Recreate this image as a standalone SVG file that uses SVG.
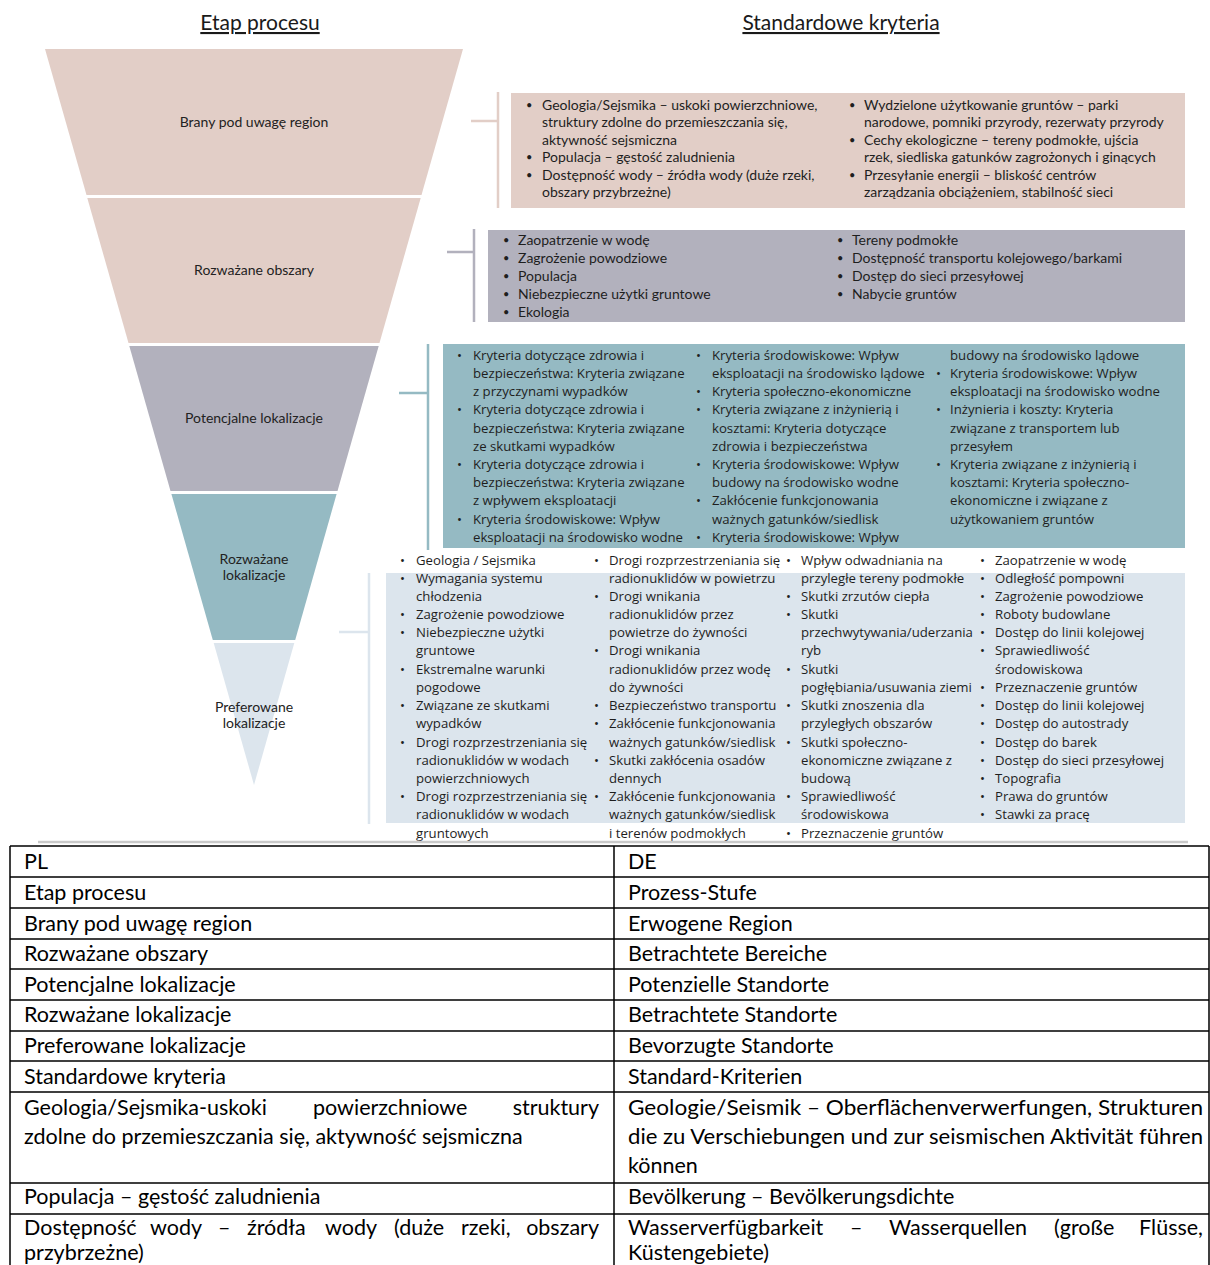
<svg xmlns="http://www.w3.org/2000/svg" width="1210" height="1265" viewBox="0 0 1210 1265">
  <style>
    .hdr { font-family: Lato, "Liberation Sans", sans-serif; font-size: 21px; fill: #1a1a1a; text-anchor: middle; text-decoration: underline; }
    .stage { font-family: Lato, "Liberation Sans", sans-serif; font-size: 14px; fill: #222; text-anchor: middle; }
    .c1 { font-family: Lato, "Liberation Sans", sans-serif; font-size: 14px; fill: #1e1e1e; }
    .c1 .b { font-size: 11px; }
    .c2 { font-family: "Open Sans", "Liberation Sans", sans-serif; font-size: 13.2px; fill: #1e1e1e; }
    .tb { font-family: Lato, "Liberation Sans", sans-serif; font-size: 21.5px; fill: #000; }
    .pink { fill: #e2cec7; }
    .grey { fill: #b2b1bd; }
    .teal { fill: #95bac3; }
    .pale { fill: #dce5ed; }
    .br { fill: none; stroke-width: 2.5; }
    .grid { stroke: #000; stroke-width: 1.5; fill: none; }
  </style>

  <!-- column headings -->
  <text class="hdr" x="260" y="30">Etap procesu</text>
  <text class="hdr" x="841" y="30">Standardowe kryteria</text>

  <!-- funnel stages -->
  <g id="stage-region">
    <polygon class="pink" points="45,49 463,49 421.5,195 86.5,195"/>
    <text class="stage" x="254" y="127">Brany pod uwagę region</text>
  </g>
  <g id="stage-areas">
    <polygon class="pink" points="87.3,198 420.7,198 379.5,343 128.5,343"/>
    <text class="stage" x="254" y="275">Rozważane obszary</text>
  </g>
  <g id="stage-potential">
    <polygon class="grey" points="129.3,346 378.7,346 337.5,491 170.5,491"/>
    <text class="stage" x="254" y="423">Potencjalne lokalizacje</text>
  </g>
  <g id="stage-considered">
    <polygon class="teal" points="171.4,494 336.6,494 295.2,640 212.8,640"/>
    <text class="stage" x="254" y="564">Rozważane</text>
    <text class="stage" x="254" y="580">lokalizacje</text>
  </g>
  <g id="stage-preferred">
    <polygon class="pale" points="213.7,643 294.3,643 254,785"/>
    <text class="stage" x="254" y="712">Preferowane</text>
    <text class="stage" x="254" y="728">lokalizacje</text>
  </g>

  <!-- bracket connectors from stages to criteria boxes -->
  <g id="connectors">
    <path class="br" stroke="#e2cec7" d="M471,121 H498 M498,92 V208"/>
    <path class="br" stroke="#b2b1bd" d="M447,252 H474 M474,229 V322"/>
    <path class="br" stroke="#95bac3" d="M399,393 H428 M428,344 V550"/>
    <path class="br" stroke="#dce5ed" d="M339,632 H369 M369,573 V824"/>
  </g>

  <!-- criteria: considered region -->
  <g id="criteria-region">
    <rect class="pink" x="511" y="93" width="674" height="115"/>
    <g class="c1">
      <text class="b" x="526" y="108.5">•</text>
      <text x="542" y="109.5">Geologia/Sejsmika – uskoki powierzchniowe,</text>
      <text x="542" y="127">struktury zdolne do przemieszczania się,</text>
      <text x="542" y="144.5">aktywność sejsmiczna</text>
      <text class="b" x="526" y="161">•</text>
      <text x="542" y="162">Populacja – gęstość zaludnienia</text>
      <text class="b" x="526" y="178.5">•</text>
      <text x="542" y="179.5">Dostępność wody – źródła wody (duże rzeki,</text>
      <text x="542" y="197">obszary przybrzeżne)</text>
      <text class="b" x="849" y="108.5">•</text>
      <text x="864" y="109.5">Wydzielone użytkowanie gruntów – parki</text>
      <text x="864" y="127">narodowe, pomniki przyrody, rezerwaty przyrody</text>
      <text class="b" x="849" y="143.5">•</text>
      <text x="864" y="144.5">Cechy ekologiczne – tereny podmokłe, ujścia</text>
      <text x="864" y="162">rzek, siedliska gatunków zagrożonych i ginących</text>
      <text class="b" x="849" y="178.5">•</text>
      <text x="864" y="179.5">Przesyłanie energii – bliskość centrów</text>
      <text x="864" y="197">zarządzania obciążeniem, stabilność sieci</text>
    </g>
  </g>

  <!-- criteria: considered areas -->
  <g id="criteria-areas">
    <rect class="grey" x="488" y="230" width="697" height="92"/>
    <g class="c1">
      <text class="b" x="503" y="243.5">•</text><text x="518" y="244.5">Zaopatrzenie w wodę</text>
      <text class="b" x="503" y="261.5">•</text><text x="518" y="262.5">Zagrożenie powodziowe</text>
      <text class="b" x="503" y="279.5">•</text><text x="518" y="280.5">Populacja</text>
      <text class="b" x="503" y="297.5">•</text><text x="518" y="298.5">Niebezpieczne użytki gruntowe</text>
      <text class="b" x="503" y="315.5">•</text><text x="518" y="316.5">Ekologia</text>
      <text class="b" x="837" y="243.5">•</text><text x="852" y="244.5">Tereny podmokłe</text>
      <text class="b" x="837" y="261.5">•</text><text x="852" y="262.5">Dostępność transportu kolejowego/barkami</text>
      <text class="b" x="837" y="279.5">•</text><text x="852" y="280.5">Dostęp do sieci przesyłowej</text>
      <text class="b" x="837" y="297.5">•</text><text x="852" y="298.5">Nabycie gruntów</text>
    </g>
  </g>

  <!-- criteria: potential sites -->
  <g id="criteria-potential">
    <rect class="teal" x="443" y="344" width="742" height="204"/>
    <g class="c2">
      <text x="457" y="359.5">•</text><text x="473" y="359.5">Kryteria dotyczące zdrowia i</text>
      <text x="473" y="377.5">bezpieczeństwa: Kryteria związane</text>
      <text x="473" y="396">z przyczynami wypadków</text>
      <text x="457" y="414">•</text><text x="473" y="414">Kryteria dotyczące zdrowia i</text>
      <text x="473" y="432.5">bezpieczeństwa: Kryteria związane</text>
      <text x="473" y="450.5">ze skutkami wypadków</text>
      <text x="457" y="469">•</text><text x="473" y="469">Kryteria dotyczące zdrowia i</text>
      <text x="473" y="487">bezpieczeństwa: Kryteria związane</text>
      <text x="473" y="505">z wpływem eksploatacji</text>
      <text x="457" y="523.5">•</text><text x="473" y="523.5">Kryteria środowiskowe: Wpływ</text>
      <text x="473" y="541.5">eksploatacji na środowisko wodne</text>

      <text x="696" y="359.5">•</text><text x="712" y="359.5">Kryteria środowiskowe: Wpływ</text>
      <text x="712" y="377.5">eksploatacji na środowisko lądowe</text>
      <text x="696" y="396">•</text><text x="712" y="396">Kryteria społeczno-ekonomiczne</text>
      <text x="696" y="414">•</text><text x="712" y="414">Kryteria związane z inżynierią i</text>
      <text x="712" y="432.5">kosztami: Kryteria dotyczące</text>
      <text x="712" y="450.5">zdrowia i bezpieczeństwa</text>
      <text x="696" y="469">•</text><text x="712" y="469">Kryteria środowiskowe: Wpływ</text>
      <text x="712" y="487">budowy na środowisko wodne</text>
      <text x="696" y="505">•</text><text x="712" y="505">Zakłócenie funkcjonowania</text>
      <text x="712" y="523.5">ważnych gatunków/siedlisk</text>
      <text x="696" y="541.5">•</text><text x="712" y="541.5">Kryteria środowiskowe: Wpływ</text>

      <text x="950" y="359.5">budowy na środowisko lądowe</text>
      <text x="936" y="377.5">•</text><text x="950" y="377.5">Kryteria środowiskowe: Wpływ</text>
      <text x="950" y="396">eksploatacji na środowisko wodne</text>
      <text x="936" y="414">•</text><text x="950" y="414">Inżynieria i koszty: Kryteria</text>
      <text x="950" y="432.5">związane z transportem lub</text>
      <text x="950" y="450.5">przesyłem</text>
      <text x="936" y="469">•</text><text x="950" y="469">Kryteria związane z inżynierią i</text>
      <text x="950" y="487">kosztami: Kryteria społeczno-</text>
      <text x="950" y="505">ekonomiczne i związane z</text>
      <text x="950" y="523.5">użytkowaniem gruntów</text>
    </g>
  </g>

  <!-- criteria: considered sites -->
  <g id="criteria-considered">
    <rect class="pale" x="386" y="573" width="799" height="250"/>
    <g class="c2">
      <text x="400" y="565">•</text><text x="416" y="565">Geologia / Sejsmika</text>
      <text x="400" y="583">•</text><text x="416" y="583">Wymagania systemu</text>
      <text x="416" y="601">chłodzenia</text>
      <text x="400" y="619">•</text><text x="416" y="619">Zagrożenie powodziowe</text>
      <text x="400" y="637">•</text><text x="416" y="637">Niebezpieczne użytki</text>
      <text x="416" y="655">gruntowe</text>
      <text x="400" y="674">•</text><text x="416" y="674">Ekstremalne warunki</text>
      <text x="416" y="692">pogodowe</text>
      <text x="400" y="710">•</text><text x="416" y="710">Związane ze skutkami</text>
      <text x="416" y="728">wypadków</text>
      <text x="400" y="747">•</text><text x="416" y="747">Drogi rozprzestrzeniania się</text>
      <text x="416" y="765">radionuklidów w wodach</text>
      <text x="416" y="783">powierzchniowych</text>
      <text x="400" y="801">•</text><text x="416" y="801">Drogi rozprzestrzeniania się</text>
      <text x="416" y="819">radionuklidów w wodach</text>
      <text x="416" y="838">gruntowych</text>

      <text x="594" y="565">•</text><text x="609" y="565">Drogi rozprzestrzeniania się</text>
      <text x="609" y="583">radionuklidów w powietrzu</text>
      <text x="594" y="601">•</text><text x="609" y="601">Drogi wnikania</text>
      <text x="609" y="619">radionuklidów przez</text>
      <text x="609" y="637">powietrze do żywności</text>
      <text x="594" y="655">•</text><text x="609" y="655">Drogi wnikania</text>
      <text x="609" y="674">radionuklidów przez wodę</text>
      <text x="609" y="692">do żywności</text>
      <text x="594" y="710">•</text><text x="609" y="710">Bezpieczeństwo transportu</text>
      <text x="594" y="728">•</text><text x="609" y="728">Zakłócenie funkcjonowania</text>
      <text x="609" y="747">ważnych gatunków/siedlisk</text>
      <text x="594" y="765">•</text><text x="609" y="765">Skutki zakłócenia osadów</text>
      <text x="609" y="783">dennych</text>
      <text x="594" y="801">•</text><text x="609" y="801">Zakłócenie funkcjonowania</text>
      <text x="609" y="819">ważnych gatunków/siedlisk</text>
      <text x="609" y="838">i terenów podmokłych</text>

      <text x="786" y="565">•</text><text x="801" y="565">Wpływ odwadniania na</text>
      <text x="801" y="583">przyległe tereny podmokłe</text>
      <text x="786" y="601">•</text><text x="801" y="601">Skutki zrzutów ciepła</text>
      <text x="786" y="619">•</text><text x="801" y="619">Skutki</text>
      <text x="801" y="637">przechwytywania/uderzania</text>
      <text x="801" y="655">ryb</text>
      <text x="786" y="674">•</text><text x="801" y="674">Skutki</text>
      <text x="801" y="692">pogłębiania/usuwania ziemi</text>
      <text x="786" y="710">•</text><text x="801" y="710">Skutki znoszenia dla</text>
      <text x="801" y="728">przyległych obszarów</text>
      <text x="786" y="747">•</text><text x="801" y="747">Skutki społeczno-</text>
      <text x="801" y="765">ekonomiczne związane z</text>
      <text x="801" y="783">budową</text>
      <text x="786" y="801">•</text><text x="801" y="801">Sprawiedliwość</text>
      <text x="801" y="819">środowiskowa</text>
      <text x="786" y="838">•</text><text x="801" y="838">Przeznaczenie gruntów</text>

      <text x="980" y="565">•</text><text x="995" y="565">Zaopatrzenie w wodę</text>
      <text x="980" y="583">•</text><text x="995" y="583">Odległość pompowni</text>
      <text x="980" y="601">•</text><text x="995" y="601">Zagrożenie powodziowe</text>
      <text x="980" y="619">•</text><text x="995" y="619">Roboty budowlane</text>
      <text x="980" y="637">•</text><text x="995" y="637">Dostęp do linii kolejowej</text>
      <text x="980" y="655">•</text><text x="995" y="655">Sprawiedliwość</text>
      <text x="995" y="674">środowiskowa</text>
      <text x="980" y="692">•</text><text x="995" y="692">Przeznaczenie gruntów</text>
      <text x="980" y="710">•</text><text x="995" y="710">Dostęp do linii kolejowej</text>
      <text x="980" y="728">•</text><text x="995" y="728">Dostęp do autostrady</text>
      <text x="980" y="747">•</text><text x="995" y="747">Dostęp do barek</text>
      <text x="980" y="765">•</text><text x="995" y="765">Dostęp do sieci przesyłowej</text>
      <text x="980" y="783">•</text><text x="995" y="783">Topografia</text>
      <text x="980" y="801">•</text><text x="995" y="801">Prawa do gruntów</text>
      <text x="980" y="819">•</text><text x="995" y="819">Stawki za pracę</text>
    </g>
  </g>

  <!-- thin grey rule under the figure -->
  <line x1="38" y1="842" x2="1188" y2="842" stroke="#c9c9c9" stroke-width="2.5"/>

  <!-- PL / DE glossary table -->
  <g id="glossary">
    <path class="grid" d="M10,846 H1209 M10,877 H1209 M10,908 H1209 M10,939 H1209 M10,969 H1209 M10,1000 H1209 M10,1031 H1209 M10,1061 H1209 M10,1092 H1209 M10,1183 H1209 M10,1214 H1209 M10,846 V1265 M614,846 V1265 M1209,846 V1265"/>
    <g class="tb">
      <text x="24" y="869">PL</text>
      <text x="628" y="869">DE</text>
      <text x="24" y="900">Etap procesu</text>
      <text x="628" y="900">Prozess-Stufe</text>
      <text x="24" y="931">Brany pod uwagę region</text>
      <text x="628" y="931">Erwogene Region</text>
      <text x="24" y="961">Rozważane obszary</text>
      <text x="628" y="961">Betrachtete Bereiche</text>
      <text x="24" y="992">Potencjalne lokalizacje</text>
      <text x="628" y="992">Potenzielle Standorte</text>
      <text x="24" y="1022">Rozważane lokalizacje</text>
      <text x="628" y="1022">Betrachtete Standorte</text>
      <text x="24" y="1053">Preferowane lokalizacje</text>
      <text x="628" y="1053">Bevorzugte Standorte</text>
      <text x="24" y="1084">Standardowe kryteria</text>
      <text x="628" y="1084">Standard-Kriterien</text>

      <text x="24" y="1115">Geologia/Sejsmika-uskoki</text>
      <text x="313" y="1115">powierzchniowe</text>
      <text x="599" y="1115" text-anchor="end">struktury</text>
      <text x="24" y="1144">zdolne do przemieszczania się, aktywność sejsmiczna</text>
      <text x="628" y="1115" textLength="575" lengthAdjust="spacingAndGlyphs">Geologie/Seismik – Oberflächenverwerfungen, Strukturen</text>
      <text x="628" y="1144" textLength="575" lengthAdjust="spacingAndGlyphs">die zu Verschiebungen und zur seismischen Aktivität führen</text>
      <text x="628" y="1173">können</text>

      <text x="24" y="1204">Populacja – gęstość zaludnienia</text>
      <text x="628" y="1204">Bevölkerung – Bevölkerungsdichte</text>

      <text x="24" y="1235">Dostępność</text>
      <text x="150" y="1235">wody</text>
      <text x="218" y="1235">–</text>
      <text x="247" y="1235">źródła</text>
      <text x="325" y="1235">wody</text>
      <text x="394" y="1235">(duże</text>
      <text x="461" y="1235">rzeki,</text>
      <text x="599" y="1235" text-anchor="end">obszary</text>
      <text x="24" y="1260">przybrzeżne)</text>
      <text x="628" y="1235">Wasserverfügbarkeit</text>
      <text x="850" y="1235">–</text>
      <text x="889" y="1235">Wasserquellen</text>
      <text x="1054" y="1235">(große</text>
      <text x="1203" y="1235" text-anchor="end">Flüsse,</text>
      <text x="628" y="1260">Küstengebiete)</text>
    </g>
  </g>
</svg>
